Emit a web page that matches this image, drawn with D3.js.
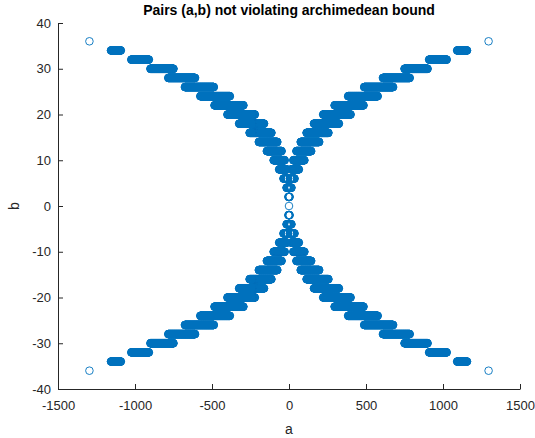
<!DOCTYPE html>
<html><head><meta charset="utf-8">
<script src="https://cdn.jsdelivr.net/npm/d3@7/dist/d3.min.js"></script>
<style>body{margin:0;background:#fff} text{font-family:"Liberation Sans",Arial,Helvetica,sans-serif}</style>
</head><body>
<svg id="chart" width="535" height="438"></svg>
<script>
// Even b levels and the a-range (|a|) for each level
const bLevels = [0, 2, 4, 6, 8, 10, 12, 14, 16, 18, 20, 22, 24, 26, 28, 30, 32, 34, 36];
const aMin    = [0, 1, 2, 6, 14, 28, 48, 76, 114, 162, 222, 296, 384, 488, 610, 750, 910, 1092, 1296];
const aMax    = [0, 4, 16, 36, 64, 100, 144, 196, 256, 324, 400, 484, 576, 676, 784, 900, 1024, 1156, 1296];
const xTicks = [-1500, -1000, -500, 0, 500, 1000, 1500];
const yTicks = [-40, -30, -20, -10, 0, 10, 20, 30, 40];
const titleText = "Pairs (a,b) not violating archimedean bound";

// pairs (a,b) inside each read range, in all four quadrants
const pts = [];
bLevels.forEach((b, i) => {
  for (let a = aMin[i]; a <= aMax[i]; a++) {
    const as = a === 0 ? [0] : [a, -a];
    const bs = b === 0 ? [0] : [b, -b];
    as.forEach(av => bs.forEach(bv => pts.push([av, bv])));
  }
});

const svg = d3.select("#chart");
const x = d3.scaleLinear().domain([-1500, 1500]).range([58, 520]);
const y = d3.scaleLinear().domain([-40, 40]).range([389, 23]);
const ink = "#262626";

svg.append("g").selectAll("circle").data(pts).join("circle")
  .attr("cx", d => x(d[0])).attr("cy", d => y(d[1])).attr("r", 3.8)
  .attr("fill", "none").attr("stroke", "#0072BD").attr("stroke-width", 0.9);

const fmt = d => String(d);
const gx = svg.append("g").attr("transform", `translate(0,${y(-40)})`)
  .call(d3.axisBottom(x).tickValues(xTicks).tickFormat(fmt).tickSize(-5).tickSizeOuter(0).tickPadding(12));
const gy = svg.append("g").attr("transform", `translate(${x(-1500)},0)`)
  .call(d3.axisLeft(y).tickValues(yTicks).tickFormat(fmt).tickSize(-5).tickSizeOuter(0).tickPadding(7));
[gx, gy].forEach(g => {
  g.select(".domain").attr("stroke", ink);
  g.selectAll(".tick line").attr("stroke", ink);
  g.selectAll(".tick text").attr("fill", ink).style("font-size", "13px")
    .style("font-family", '"Liberation Sans",Arial,Helvetica,sans-serif');
});

svg.append("text").attr("x", 289).attr("y", 15).attr("text-anchor", "middle")
  .attr("font-weight", "bold").attr("font-size", 14).attr("fill", "#000").text(titleText);
svg.append("text").attr("x", 289).attr("y", 434).attr("text-anchor", "middle")
  .attr("font-size", 14).attr("fill", ink).text("a");
svg.append("text").attr("transform", "translate(19,206) rotate(-90)").attr("text-anchor", "middle")
  .attr("font-size", 14).attr("fill", ink).text("b");
</script>
</body></html>
